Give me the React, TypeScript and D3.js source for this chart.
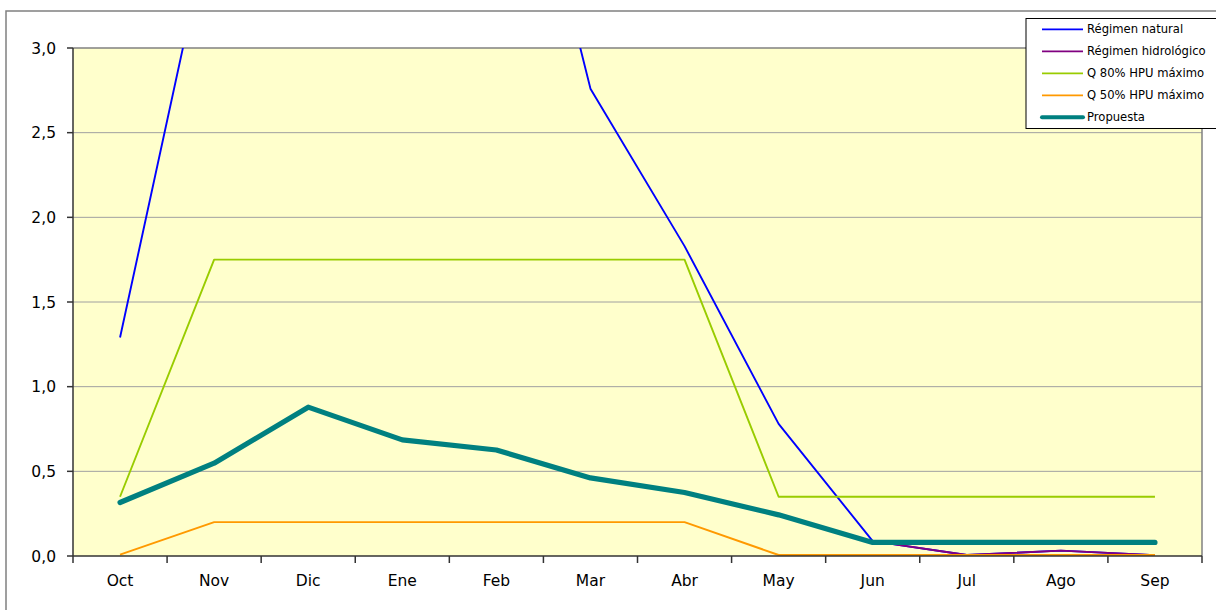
import React from "react";
import * as d3 from "d3";

const months = ["Oct", "Nov", "Dic", "Ene", "Feb", "Mar", "Abr", "May", "Jun", "Jul", "Ago", "Sep"];
const natural = [1.29, 3.85, 5.4, 5.6, 4.98, 2.76, 1.83, 0.78, 0.088, 0.006, 0.032, 0.005];
const hidrologico = [null, null, null, null, null, null, null, null, 0.088, 0.006, 0.032, 0.005];
const q80 = [0.35, 1.75, 1.75, 1.75, 1.75, 1.75, 1.75, 0.35, 0.35, 0.35, 0.35, 0.35];
const q50 = [0.008, 0.2, 0.2, 0.2, 0.2, 0.2, 0.2, 0.006, 0.006, 0.006, 0.006, 0.006];
const propuesta = [0.316, 0.548, 0.879, 0.686, 0.626, 0.461, 0.375, 0.243, 0.08, 0.08, 0.08, 0.08];
const yTicks = [0, 0.5, 1.0, 1.5, 2.0, 2.5, 3.0];

const seriesList = [
  { name: "Régimen natural", data: natural, color: "#0000FF", width: 1.9 },
  { name: "Régimen hidrológico", data: hidrologico, color: "#800080", width: 1.9 },
  { name: "Q 80% HPU máximo", data: q80, color: "#99CC00", width: 1.9 },
  { name: "Q 50% HPU máximo", data: q50, color: "#FF9900", width: 1.9 },
  { name: "Propuesta", data: propuesta, color: "#008080", width: 5.2 },
];

const W = 1216, H = 610;
const left = 73, right = 1202, top = 48, bottom = 556;
const font = "DejaVu Sans, Verdana, sans-serif";

export default function App() {
  const xBand = d3.scaleBand<string>().domain(months).range([left, right]).padding(0);
  const x = (i: number) => (xBand(months[i]) as number) + xBand.bandwidth() / 2;
  const y = d3.scaleLinear().domain([0, 3]).range([bottom, top]);
  const line = d3
    .line<number | null>()
    .defined((d) => d !== null)
    .x((_, i) => x(i))
    .y((d) => y(d as number));
  const fmt = (v: number) => d3.format(".1f")(v).replace(".", ",");
  const boundaries = months.map((m) => xBand(m) as number).concat([right]);

  return (
    <svg width={W} height={H} style={{ position: "absolute", left: 0, top: 0 }}>
      <rect x={0} y={0} width={W} height={H} fill="#fff" />
      <rect x={6} y={11} width={W + 10} height={H + 10} fill="none" stroke="#808080" strokeWidth={1.5} />
      <defs>
        <clipPath id="plotclip">
          <rect x={left} y={top} width={right - left} height={bottom - top} />
        </clipPath>
      </defs>
      <rect x={left} y={top} width={right - left} height={bottom - top} fill="#FFFFCC" />
      {yTicks.filter((t) => t > 0 && t < 3).map((t) => (
        <line key={t} x1={left} x2={right} y1={y(t)} y2={y(t)} stroke="#A0A0A0" strokeWidth={1} />
      ))}
      <line x1={left} x2={right} y1={top} y2={top} stroke="#808080" strokeWidth={1.5} />
      <line x1={right} x2={right} y1={top} y2={bottom} stroke="#808080" strokeWidth={1.5} />
      <g clipPath="url(#plotclip)">
        {seriesList.map((s) => (
          <path
            key={s.name}
            d={line(s.data as (number | null)[]) || ""}
            fill="none"
            stroke={s.color}
            strokeWidth={s.width}
            strokeLinecap={s.width > 3 ? "round" : "butt"}
            strokeLinejoin="round"
          />
        ))}
      </g>
      <line x1={left} x2={left} y1={top} y2={bottom} stroke="#333" strokeWidth={1.5} />
      <line x1={left} x2={right} y1={bottom} y2={bottom} stroke="#333" strokeWidth={1.5} />
      {yTicks.map((t) => (
        <g key={t}>
          <line x1={left - 6} x2={left} y1={y(t)} y2={y(t)} stroke="#333" strokeWidth={1.5} />
          <text x={56} y={y(t)} dy="0.36em" textAnchor="end" fontFamily={font} fontSize={15.5} fill="#000">
            {fmt(t)}
          </text>
        </g>
      ))}
      {boundaries.map((b, i) => (
        <line key={i} x1={b} x2={b} y1={bottom} y2={bottom + 7} stroke="#333" strokeWidth={1.5} />
      ))}
      {months.map((m, i) => (
        <text key={m} x={x(i)} y={586} textAnchor="middle" fontFamily={font} fontSize={15.5} fill="#000">
          {m}
        </text>
      ))}
      <rect x={1026} y={18.5} width={200} height={110} fill="#fff" stroke="#000" strokeWidth={1} />
      {seriesList.map((s, i) => {
        const ly = 29.3 + i * 22;
        return (
          <g key={s.name}>
            <line x1={1042} x2={1083} y1={ly} y2={ly} stroke={s.color} strokeWidth={s.width > 3 ? 4 : 1.8} strokeLinecap={s.width > 3 ? "round" : "butt"} />
            <text x={1087} y={ly} dy="0.36em" fontFamily={font} fontSize={11.6} fill="#000">
              {s.name}
            </text>
          </g>
        );
      })}
    </svg>
  );
}
